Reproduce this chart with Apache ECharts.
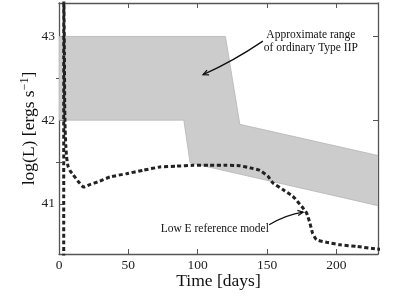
<!DOCTYPE html>
<html>
<head>
<meta charset="utf-8">
<script src="https://cdn.jsdelivr.net/npm/echarts@6/dist/echarts.min.js"></script>
<style>
html,body{margin:0;padding:0;background:#fff;}
#c{width:399px;height:299px;}
</style>
</head>
<body>
<div id="c"></div>
<script>
// ---- data ----
var xTicks = [0, 50, 100, 150, 200];
var yTicks = [41, 42, 43];
var yMinorTicks = [41.5, 42.5];
// approximate range of ordinary Type IIP (polygon vertices: [day, logL])
var iipRange = [[0, 43], [120, 43], [130.4, 41.95], [232, 41.57], [232, 40.97], [94.5, 41.49], [90, 42], [0, 42]];
// Low E reference model light curve
var lowE = [
  [3.4, 40.2], [3.45, 43.6], [3.7, 43.6], [3.9, 42.8], [4.1, 42.2], [4.4, 41.9], [4.9, 41.7],
  [5.4, 41.57], [6.5, 41.45], [8.2, 41.39], [10.1, 41.35], [13.7, 41.27], [17.8, 41.2],
  [22.2, 41.23], [29.4, 41.27], [36.6, 41.32], [48.6, 41.36], [60.6, 41.40], [72.7, 41.44],
  [84.7, 41.45], [96.7, 41.46], [108.7, 41.46], [120.8, 41.46], [130.4, 41.455], [137.6, 41.43],
  [144.8, 41.40], [150.6, 41.33], [154.2, 41.25], [161.4, 41.17], [168.6, 41.09], [174.9, 40.97],
  [178.5, 40.89], [180.9, 40.77], [182.8, 40.65], [185.7, 40.57], [192.9, 40.54], [202.5, 40.51],
  [214.6, 40.49], [229, 40.46], [233, 40.455]
];
var labelIIP = ['Approximate range', 'of ordinary Type IIP'];
var labelLowE = 'Low E reference model';

var FONT = '"Liberation Serif", "DejaVu Serif", serif';
var AX = '#555';

var chart = echarts.init(document.getElementById('c'), null, {renderer: 'canvas'});

function frameAxis(extra) {
  var base = {
    axisLine: {show: true, onZero: false, lineStyle: {color: AX, width: 1.3}},
    splitLine: {show: false},
    axisLabel: {show: false},
    axisTick: {show: true, inside: true, length: 5, lineStyle: {color: AX, width: 1}}
  };
  return Object.assign(base, extra);
}

var option = {
  animation: false,
  backgroundColor: '#fff',
  grid: {left: 59, right: 21, top: 3, bottom: 45, containLabel: false},
  xAxis: [
    frameAxis({
      type: 'value', position: 'bottom', min: 0, max: 230,
      axisTick: {show: true, inside: true, length: 5, customValues: xTicks, lineStyle: {color: AX, width: 1}},
      axisLabel: {show: true, customValues: xTicks, color: '#222', fontFamily: FONT, fontSize: 13.5, margin: 4},
      name: 'Time [days]', nameLocation: 'middle', nameGap: 18, nameMoveOverlap: false,
      nameTextStyle: {color: '#111', fontFamily: FONT, fontSize: 17.5, verticalAlign: 'top'}
    }),
    frameAxis({
      type: 'value', position: 'top', min: 0, max: 230,
      axisTick: {show: true, inside: true, length: 5, customValues: xTicks, lineStyle: {color: AX, width: 1}}
    })
  ],
  yAxis: [
    frameAxis({
      type: 'value', position: 'left', min: 40.4, max: 43.4,
      axisTick: {show: true, inside: true, length: 5, customValues: yTicks, lineStyle: {color: AX, width: 1}},
      axisLabel: {show: true, customValues: yTicks, color: '#222', fontFamily: FONT, fontSize: 13.5, margin: 4},
      name: 'log(L) [ergs s{sup|−1}]', nameLocation: 'middle', nameGap: 20, nameRotate: 90, nameMoveOverlap: false,
      nameTextStyle: {color: '#111', fontFamily: FONT, fontSize: 17.5,
        rich: {sup: {fontFamily: FONT, fontSize: 12, verticalAlign: 'top', padding: [0, 0, 8, 0], color: '#111'}}}
    }),
    frameAxis({
      type: 'value', position: 'right', min: 40.4, max: 43.4,
      axisTick: {show: true, inside: true, length: 5, customValues: yTicks, lineStyle: {color: AX, width: 1}}
    }),
    {
      type: 'value', position: 'left', min: 40.4, max: 43.4,
      axisLine: {show: false}, splitLine: {show: false}, axisLabel: {show: false},
      axisTick: {show: true, inside: true, length: 3, customValues: yMinorTicks, lineStyle: {color: AX, width: 1}}
    },
    {
      type: 'value', position: 'right', min: 40.4, max: 43.4,
      axisLine: {show: false}, splitLine: {show: false}, axisLabel: {show: false},
      axisTick: {show: true, inside: true, length: 3, customValues: yMinorTicks, lineStyle: {color: AX, width: 1}}
    }
  ],
  series: [
    {
      type: 'custom',
      xAxisIndex: 0, yAxisIndex: 0,
      z: 1,
      data: [0],
      clip: true,
      renderItem: function (params, api) {
        var pts = iipRange.map(function (p) { return api.coord(p); });
        var cs = params.coordSys;
        return {
          type: 'polygon',
          shape: {points: pts},
          clipPath: {type: 'rect', shape: {x: cs.x, y: cs.y, width: cs.width, height: cs.height}},
          style: {fill: '#cccccc', stroke: '#b5b5b5', lineWidth: 0.8}
        };
      }
    },
    {
      type: 'line',
      xAxisIndex: 0, yAxisIndex: 0,
      z: 3,
      data: lowE,
      showSymbol: false,
      symbol: 'none',
      smooth: 0.15,
      clip: true,
      lineStyle: {color: '#222', width: 3, type: [4, 2.6], cap: 'butt'}
    }
  ]
};
chart.setOption(option);

function px(p) { return chart.convertToPixel({xAxisIndex: 0, yAxisIndex: 0}, p); }

function arrow(start, cp, end) {
  var s = px(start), c = px(cp), e = px(end);
  var dx = e[0] - c[0], dy = e[1] - c[1];
  var L = Math.sqrt(dx * dx + dy * dy);
  dx /= L; dy /= L;
  var len = 6, ang = 0.45;
  function rot(a) {
    var cx = Math.cos(a), sx = Math.sin(a);
    return [e[0] - len * (dx * cx - dy * sx), e[1] - len * (dx * sx + dy * cx)];
  }
  return [
    {type: 'bezierCurve', shape: {x1: s[0], y1: s[1], x2: e[0], y2: e[1], cpx1: c[0], cpy1: c[1]},
      style: {stroke: '#111', lineWidth: 1.3, fill: null}, z: 10},
    {type: 'polyline', shape: {points: [rot(ang), e, rot(-ang)]},
      style: {stroke: '#111', lineWidth: 1.3, fill: null}, z: 10}
  ];
}

var g = [];
g = g.concat(arrow([147, 42.944], [125.3, 42.70], [103.9, 42.544]));
g = g.concat(arrow([151.5, 40.75], [164, 40.87], [176, 40.90]));
var t1 = px([181.6, 43.02]), t2 = px([181.6, 42.86]), t3 = px([112.3, 40.70]);
g.push({type: 'text', x: t1[0], y: t1[1], z: 10,
  style: {text: labelIIP[0], fill: '#111', font: '11.5px ' + FONT, align: 'center', verticalAlign: 'middle'}});
g.push({type: 'text', x: t2[0], y: t2[1], z: 10,
  style: {text: labelIIP[1], fill: '#111', font: '11.5px ' + FONT, align: 'center', verticalAlign: 'middle'}});
g.push({type: 'text', x: t3[0], y: t3[1], z: 10,
  style: {text: labelLowE, fill: '#111', font: '11.5px ' + FONT, align: 'center', verticalAlign: 'middle'}});
chart.setOption({graphic: g});
</script>
</body>
</html>
